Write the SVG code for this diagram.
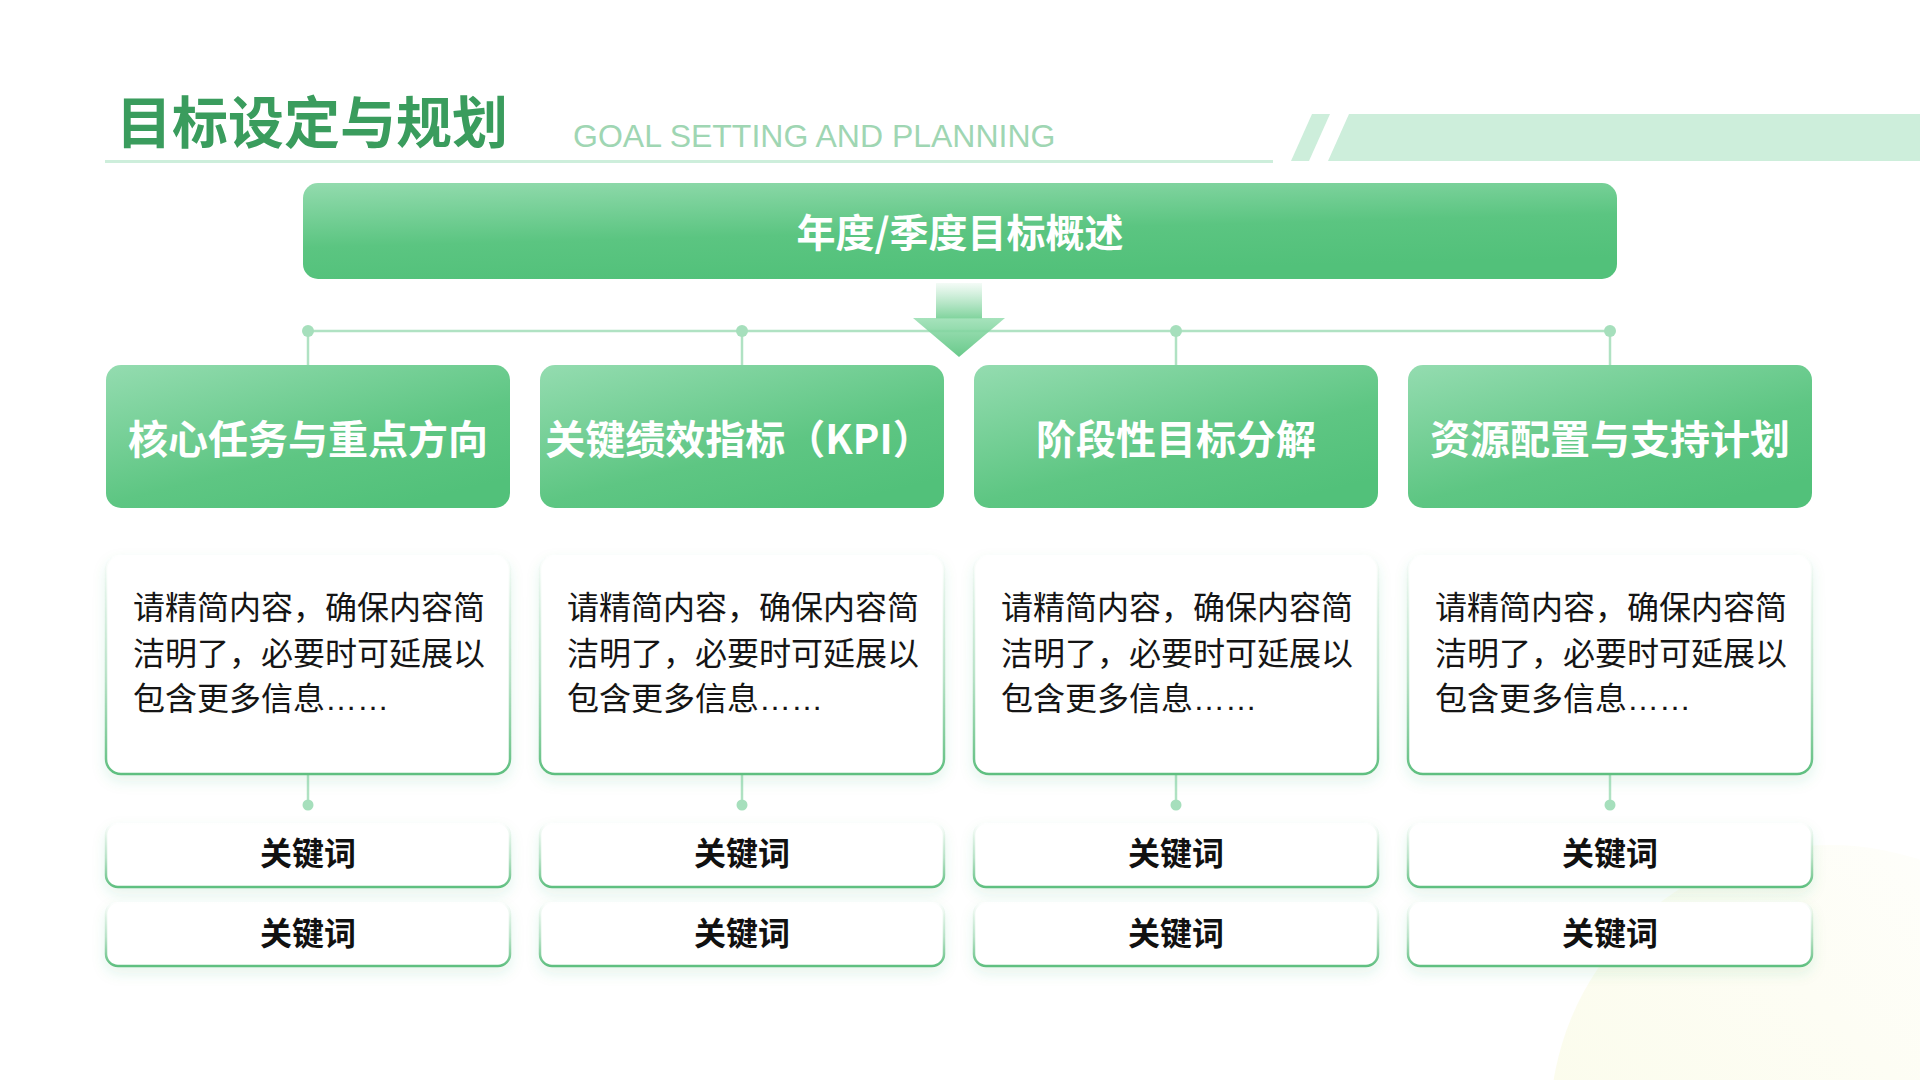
<svg xmlns="http://www.w3.org/2000/svg" width="1920" height="1080" viewBox="0 0 1920 1080">
  <defs>
    <linearGradient id="gHead" x1="0" y1="0" x2="0.7" y2="1">
      <stop offset="0" stop-color="#94dcb0"/>
      <stop offset="0.65" stop-color="#5ec683"/>
      <stop offset="1" stop-color="#52c17a"/>
    </linearGradient>
    <linearGradient id="gBanner" x1="0" y1="0" x2="0.35" y2="1">
      <stop offset="0" stop-color="#93dbae"/>
      <stop offset="0.6" stop-color="#5bc581"/>
      <stop offset="1" stop-color="#52c17a"/>
    </linearGradient>
    <linearGradient id="gStroke" x1="0" y1="0" x2="0" y2="1">
      <stop offset="0" stop-color="#6cc48b" stop-opacity="0"/>
      <stop offset="0.55" stop-color="#6cc48b" stop-opacity="0.45"/>
      <stop offset="1" stop-color="#5fbf80" stop-opacity="1"/>
    </linearGradient>
    <linearGradient id="gStem" x1="0" y1="0" x2="0" y2="1">
      <stop offset="0" stop-color="#8fd9aa" stop-opacity="0.1"/>
      <stop offset="1" stop-color="#7fd39c" stop-opacity="1"/>
    </linearGradient>
    <linearGradient id="gTri" x1="0" y1="0" x2="0" y2="1">
      <stop offset="0" stop-color="#9adfb3"/>
      <stop offset="1" stop-color="#55c27b"/>
    </linearGradient>
    <linearGradient id="gBg" x1="0" y1="1" x2="1" y2="0">
      <stop offset="0" stop-color="#fafbe6"/>
      <stop offset="0.6" stop-color="#fdfdf4"/>
      <stop offset="1" stop-color="#ffffff"/>
    </linearGradient>
    <filter id="shadow" x="-10%" y="-10%" width="120%" height="140%">
      <feDropShadow dx="0" dy="6" stdDeviation="7" flood-color="#3aa463" flood-opacity="0.12"/>
    </filter>
    <style>
      .title{font-family:"Noto Sans CJK SC","Noto Sans",sans-serif;font-weight:bold;font-size:56px;fill:#3a9c5d}
      .sub{font-family:"Liberation Sans",Arial,sans-serif;font-size:32px;fill:#9fd6b3}
      .head{font-family:"Noto Sans CJK SC","Noto Sans",sans-serif;font-weight:bold;font-size:40px;fill:#ffffff;text-anchor:middle}
      .banner{font-family:"Noto Sans CJK SC","Noto Sans",sans-serif;font-weight:bold;font-size:39px;fill:#ffffff;text-anchor:middle}
      .body{font-family:"Noto Sans CJK SC","Noto Sans",sans-serif;font-size:32px;fill:#151515}
      .ell{font-family:"Liberation Sans",Arial,sans-serif}
      .kw{font-family:"Noto Sans CJK SC","Noto Sans",sans-serif;font-weight:bold;font-size:32px;fill:#111111;text-anchor:middle}
      .card{fill:#ffffff;stroke:url(#gStroke);stroke-width:2.5;filter:url(#shadow)}
      .hbox{fill:url(#gHead)}
      .ln{stroke:#b0e2c3;stroke-width:2.5;fill:none}
      .dot{fill:#a6dfbc}
    </style>
  </defs>

  <rect x="0" y="0" width="1920" height="1080" fill="#ffffff"/>
  <circle cx="1830" cy="1125" r="280" fill="url(#gBg)"/>

  <g id="header">
    <text class="title" x="116" y="143">目标设定与规划</text>
    <text class="sub" x="573" y="147">GOAL SETTING AND PLANNING</text>
    <rect x="105" y="160" width="1168" height="3" fill="#cdeedb"/>
    <polygon points="1312,114 1330,114 1309,161 1291,161" fill="#cdeedb"/>
    <polygon points="1349,114 1920,114 1920,161 1328,161" fill="#cdeedb"/>
  </g>

  <g id="connectors">
    <line class="ln" x1="308" y1="331" x2="1610" y2="331"/>
    <line class="ln" x1="308" y1="331" x2="308" y2="366"/>
    <line class="ln" x1="742" y1="331" x2="742" y2="366"/>
    <line class="ln" x1="1176" y1="331" x2="1176" y2="366"/>
    <line class="ln" x1="1610" y1="331" x2="1610" y2="366"/>
    <circle class="dot" cx="308" cy="331" r="6"/>
    <circle class="dot" cx="742" cy="331" r="6"/>
    <circle class="dot" cx="1176" cy="331" r="6"/>
    <circle class="dot" cx="1610" cy="331" r="6"/>
    <line class="ln" x1="308" y1="774" x2="308" y2="805"/>
    <line class="ln" x1="742" y1="774" x2="742" y2="805"/>
    <line class="ln" x1="1176" y1="774" x2="1176" y2="805"/>
    <line class="ln" x1="1610" y1="774" x2="1610" y2="805"/>
    <circle class="dot" cx="308" cy="805" r="5.5"/>
    <circle class="dot" cx="742" cy="805" r="5.5"/>
    <circle class="dot" cx="1176" cy="805" r="5.5"/>
    <circle class="dot" cx="1610" cy="805" r="5.5"/>
  </g>

  <g id="arrow">
    <rect x="936" y="283" width="46" height="36" fill="url(#gStem)"/>
    <polygon points="913,318 1005,318 959,357" fill="url(#gTri)" opacity="0.88"/>
  </g>

  <g id="banner">
    <rect x="303" y="183" width="1314" height="96" rx="15" fill="url(#gBanner)"/>
    <text class="banner" x="960" y="247">年度/季度目标概述</text>
  </g>

  <g id="col1">
    <rect class="hbox" x="106" y="365" width="404" height="143" rx="15"/>
    <text class="head" x="308" y="454">核心任务与重点方向</text>
    <rect class="card" x="106" y="555" width="404" height="219" rx="15"/>
    <text class="body" x="133" y="619">请精简内容，确保内容简</text>
    <text class="body" x="133" y="665">洁明了，必要时可延展以</text>
    <text class="body" x="133" y="710">包含更多信息<tspan class="ell">……</tspan></text>
    <rect class="card" x="106" y="823" width="404" height="64" rx="12"/>
    <text class="kw" x="308" y="865">关键词</text>
    <rect class="card" x="106" y="902" width="404" height="64" rx="12"/>
    <text class="kw" x="308" y="945">关键词</text>
  </g>

  <g id="col2">
    <rect class="hbox" x="540" y="365" width="404" height="143" rx="15"/>
    <text class="head" x="739" y="454">关键绩效指标（KPI）</text>
    <rect class="card" x="540" y="555" width="404" height="219" rx="15"/>
    <text class="body" x="567" y="619">请精简内容，确保内容简</text>
    <text class="body" x="567" y="665">洁明了，必要时可延展以</text>
    <text class="body" x="567" y="710">包含更多信息<tspan class="ell">……</tspan></text>
    <rect class="card" x="540" y="823" width="404" height="64" rx="12"/>
    <text class="kw" x="742" y="865">关键词</text>
    <rect class="card" x="540" y="902" width="404" height="64" rx="12"/>
    <text class="kw" x="742" y="945">关键词</text>
  </g>

  <g id="col3">
    <rect class="hbox" x="974" y="365" width="404" height="143" rx="15"/>
    <text class="head" x="1176" y="454">阶段性目标分解</text>
    <rect class="card" x="974" y="555" width="404" height="219" rx="15"/>
    <text class="body" x="1001" y="619">请精简内容，确保内容简</text>
    <text class="body" x="1001" y="665">洁明了，必要时可延展以</text>
    <text class="body" x="1001" y="710">包含更多信息<tspan class="ell">……</tspan></text>
    <rect class="card" x="974" y="823" width="404" height="64" rx="12"/>
    <text class="kw" x="1176" y="865">关键词</text>
    <rect class="card" x="974" y="902" width="404" height="64" rx="12"/>
    <text class="kw" x="1176" y="945">关键词</text>
  </g>

  <g id="col4">
    <rect class="hbox" x="1408" y="365" width="404" height="143" rx="15"/>
    <text class="head" x="1610" y="454">资源配置与支持计划</text>
    <rect class="card" x="1408" y="555" width="404" height="219" rx="15"/>
    <text class="body" x="1435" y="619">请精简内容，确保内容简</text>
    <text class="body" x="1435" y="665">洁明了，必要时可延展以</text>
    <text class="body" x="1435" y="710">包含更多信息<tspan class="ell">……</tspan></text>
    <rect class="card" x="1408" y="823" width="404" height="64" rx="12"/>
    <text class="kw" x="1610" y="865">关键词</text>
    <rect class="card" x="1408" y="902" width="404" height="64" rx="12"/>
    <text class="kw" x="1610" y="945">关键词</text>
  </g>
</svg>
